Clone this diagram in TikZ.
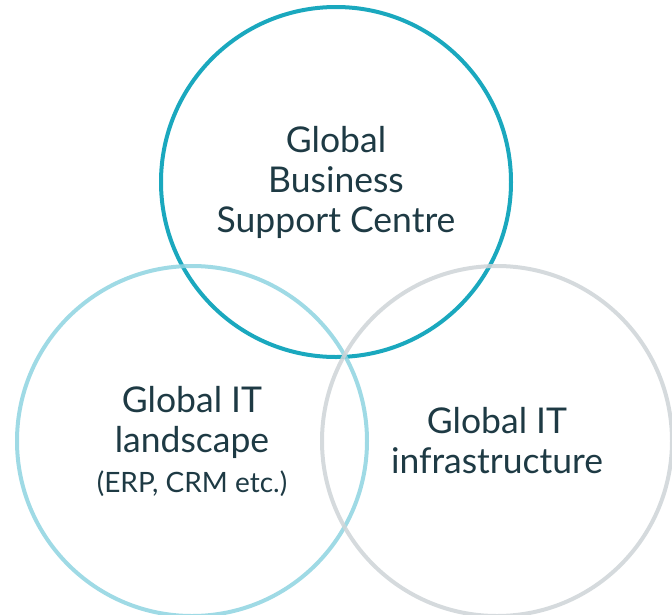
\documentclass[tikz,border=0pt]{standalone}
\usepackage{fontspec}
\setmainfont{Lato}
\usepackage{tikz}
\usetikzlibrary{positioning}
\usepackage{xcolor}
\definecolor{deepteal}{RGB}{26,168,190}
\definecolor{softteal}{RGB}{142,212,225}
\definecolor{softgrey}{RGB}{206,212,215}
\definecolor{inkgrey}{RGB}{30,58,68}

\begin{document}
\begin{tikzpicture}[x=1pt,y=-1pt]
  \tikzstyle{ring}=[circle, line width=4pt, minimum size=350pt, inner sep=0pt, align=center, text=inkgrey, font=\fontsize{35.5}{40}\selectfont]
  \useasboundingbox (0,0) rectangle (672,614);
  \node[ring, draw=deepteal] (gbsc) at (336,182) {Global\\Business\\Support Centre};
  \node[ring, draw=softteal, draw opacity=0.85] (land) at (192,441) {Global IT\\landscape\\{\fontsize{28}{37}\selectfont (ERP, CRM etc.)}};
  \node[ring, draw=softgrey, draw opacity=0.85] (infra) at (497,441) {Global IT\\infrastructure};
\end{tikzpicture}
\end{document}
